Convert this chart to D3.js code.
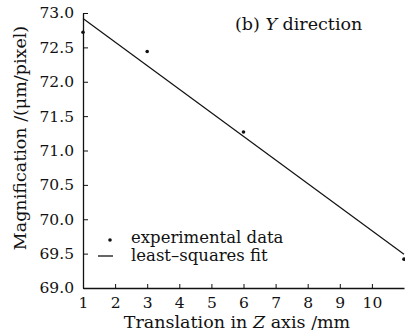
<!DOCTYPE html>
<html>
<head>
<meta charset="utf-8">
<script src="https://cdn.jsdelivr.net/npm/d3@7"></script>
<style>
  body { margin: 0; background: #fff; }
  text { font-family: "DejaVu Serif", "Liberation Serif", serif; fill: #111; }
</style>
</head>
<body>
<div id="chart"></div>
<script>
(function() {

  let width  = 405,
      height = 333;

  // measured points
  let posZ   = [1, 3, 6, 11];
  let magnif = [72.72, 72.44, 71.27, 69.42];

  // least-squares line end points
  let fitZ = [1, 11];
  let fitM = [72.92, 69.49];

  let xTicks = [1, 2, 3, 4, 5, 6, 7, 8, 9, 10];
  let yTicks = [69.0, 69.5, 70.0, 70.5, 71.0, 71.5, 72.0, 72.5, 73.0];

  let svg = d3.select('#chart')
    .append ("svg")
    .attr   ("width", width)
    .attr   ("height", height);

  let x = d3.scaleLinear().domain([1, 11]).range([83, 404]);
  let y = d3.scaleLinear().domain([69, 73]).range([288, 13]);

  // y axis, ticks pointing inside
  let yAxis = svg.append("g")
    .attr("transform", "translate(83,0)")
    .call(d3.axisLeft(y).tickValues(yTicks).tickSizeInner(-5).tickSizeOuter(0)
      .tickPadding(9).tickFormat(d3.format(".1f")));

  // x axis
  let xAxis = svg.append("g")
    .attr("transform", "translate(0,288)")
    .call(d3.axisBottom(x).tickValues(xTicks).tickSizeInner(-4).tickSizeOuter(0)
      .tickPadding(9).tickFormat(d3.format("d")));

  [xAxis, yAxis].forEach(a => {
    a.select(".domain").attr("stroke", "#111").attr("stroke-width", 1.3);
    a.selectAll(".tick line").attr("stroke", "#111");
    a.selectAll(".tick text")
      .style("font-family", '"DejaVu Serif", serif')
      .style("font-size", "15.5px")
      .attr("fill", "#111");
  });

  // fit line
  let line = d3.line()
    .x((d, i) => x(fitZ[i]))
    .y(d => y(d));

  svg.append("path")
    .datum(fitM)
    .attr("d", line)
    .attr("fill", "none")
    .attr("stroke", "#111")
    .attr("stroke-width", 1.2);

  // data points
  svg.selectAll(".pt")
    .data(magnif)
    .enter().append("circle")
    .attr("class", "pt")
    .attr("cx", (d, i) => x(posZ[i]))
    .attr("cy", d => y(d))
    .attr("r", 1.8)
    .attr("fill", "#111");

  // title
  let title = svg.append("text")
    .attr("x", 235).attr("y", 30)
    .style("font-size", "17.5px");
  title.append("tspan").text("(b) ");
  title.append("tspan").style("font-style", "italic").text("Y");
  title.append("tspan").text(" direction");

  // legend
  svg.append("circle")
    .attr("cx", 110).attr("cy", 240).attr("r", 1.8).attr("fill", "#111");
  svg.append("text")
    .attr("x", 131).attr("y", 243)
    .style("font-size", "16.5px")
    .text("experimental data");
  svg.append("line")
    .attr("x1", 98).attr("x2", 113)
    .attr("y1", 256).attr("y2", 256)
    .attr("stroke", "#111").attr("stroke-width", 1.3);
  svg.append("text")
    .attr("x", 131).attr("y", 261)
    .style("font-size", "16.5px")
    .text("least\u2013squares fit");

  // axis titles
  let xl = svg.append("text")
    .attr("x", 237).attr("y", 328)
    .attr("text-anchor", "middle")
    .style("font-size", "17.5px");
  xl.append("tspan").text("Translation in ");
  xl.append("tspan").style("font-style", "italic").text("Z");
  xl.append("tspan").text(" axis /mm");

  svg.append("text")
    .attr("transform", "translate(26,138) rotate(-90)")
    .attr("text-anchor", "middle")
    .style("font-size", "17.5px")
    .text("Magnification /(\u03bcm/pixel)");

})();
</script>
</body>
</html>
